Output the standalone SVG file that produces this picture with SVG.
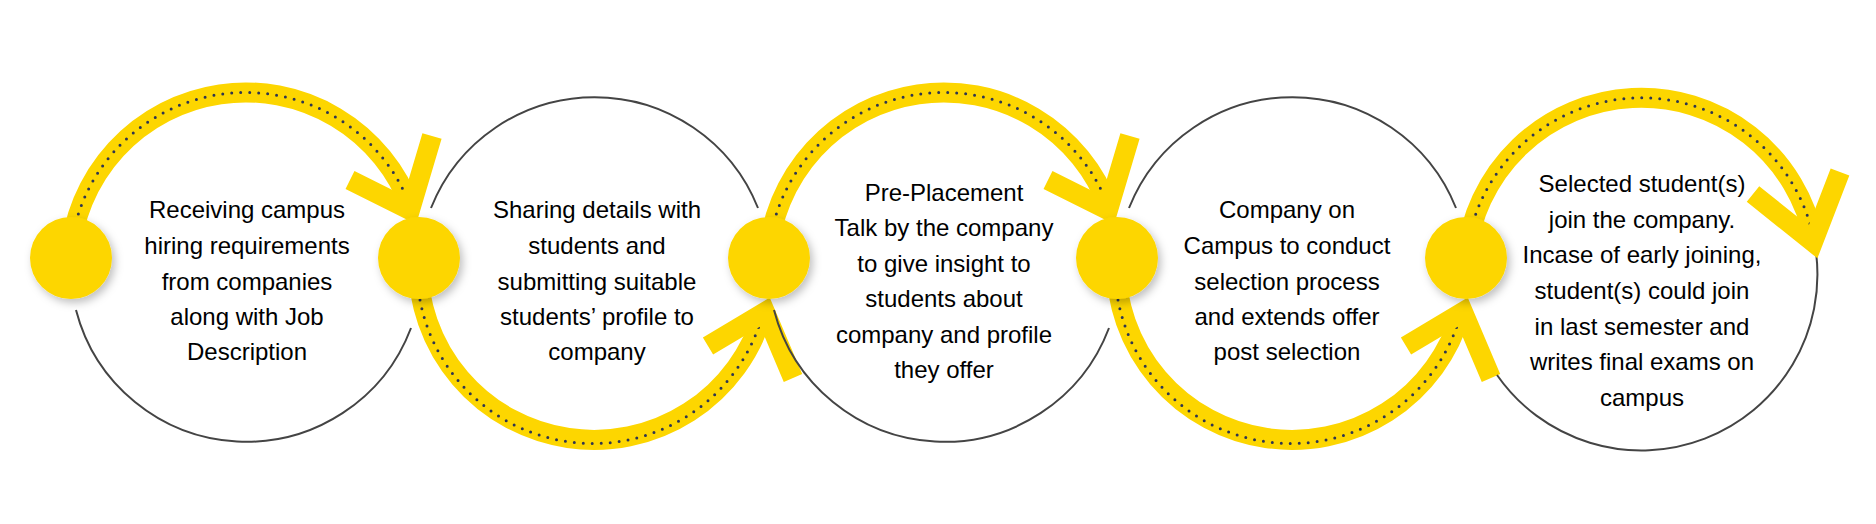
<svg xmlns="http://www.w3.org/2000/svg" width="1876" height="524" viewBox="0 0 1876 524">
<defs>
<filter id="sh" x="-30%" y="-30%" width="160%" height="160%"><feDropShadow dx="3" dy="4" stdDeviation="4" flood-color="#000" flood-opacity="0.25"/></filter>
<style>
.g{fill:none;stroke:#444;stroke-width:2}
.y{fill:none;stroke:#FDD600;stroke-width:20}
.d{fill:none;stroke:#2e3550;stroke-width:3;stroke-linecap:round;stroke-dasharray:0 9}
.a{fill:none;stroke:#FDD600;stroke-width:20;stroke-linejoin:miter;stroke-miterlimit:10}
.dot{fill:#FDD600;filter:url(#sh)}
text{font-family:"Liberation Sans",Arial,sans-serif;font-size:24px;fill:#000;text-anchor:middle}
</style>
</defs>
<rect width="1876" height="524" fill="#fff"/>
<g id="connectors">
<!-- circle1 -->
<path class="g" d="M76,310 A176,176 0 0 0 411,328"/>
<path class="y" d="M70,258 A176,176 0 0 1 411,208"/>
<path class="d" d="M70,258 A176,176 0 0 1 411,208"/>
<polyline class="a" points="432,136 410,210 350,180"/>
<!-- circle2 -->
<path class="g" d="M431,208 A176,176 0 0 1 758,208"/>
<path class="y" d="M418,262 A176,176 0 0 0 763,313"/>
<path class="d" d="M420,300 A176,176 0 0 0 763,313"/>
<polyline class="a" points="793,378 765,312 708,346"/>
<!-- circle3 -->
<path class="g" d="M774,310 A176,176 0 0 0 1109,328"/>
<path class="y" d="M768,258 A176,176 0 0 1 1109,208"/>
<path class="d" d="M768,258 A176,176 0 0 1 1109,208"/>
<polyline class="a" points="1130,136 1108,210 1048,180"/>
<!-- circle4 -->
<path class="g" d="M1129,208 A176,176 0 0 1 1456,208"/>
<path class="y" d="M1116,262 A176,176 0 0 0 1461,313"/>
<path class="d" d="M1118,300 A176,176 0 0 0 1461,313"/>
<polyline class="a" points="1491,378 1463,312 1406,346"/>
<!-- circle5 -->
<path class="g" d="M1816,252 A176,176 0 0 1 1497,375"/>
<path class="y" d="M1466,258 A176,176 0 0 1 1814,240"/>
<path class="d" d="M1466,258 A176,176 0 0 1 1814,240"/>
<polyline class="a" points="1840,172 1813,242 1753,194"/>
</g>
<g id="dot1"><circle class="dot" cx="71" cy="258" r="41"/></g>
<g id="dot2"><circle class="dot" cx="419" cy="258" r="41"/></g>
<g id="dot3"><circle class="dot" cx="769" cy="258" r="41"/></g>
<g id="dot4"><circle class="dot" cx="1117" cy="258" r="41"/></g>
<g id="dot5"><circle class="dot" cx="1466" cy="258" r="41"/></g>
<g id="node1"><text x="247" y="218">Receiving campus</text><text x="247" y="254">hiring requirements</text><text x="247" y="290">from companies</text><text x="247" y="325">along with Job</text><text x="247" y="360">Description</text></g>
<g id="node2"><text x="597" y="218">Sharing details with</text><text x="597" y="254">students and</text><text x="597" y="290">submitting suitable</text><text x="597" y="325">students’ profile to</text><text x="597" y="360">company</text></g>
<g id="node3"><text x="944" y="201">Pre-Placement</text><text x="944" y="236">Talk by the company</text><text x="944" y="272">to give insight to</text><text x="944" y="307">students about</text><text x="944" y="343">company and profile</text><text x="944" y="378">they offer</text></g>
<g id="node4"><text x="1287" y="218">Company on</text><text x="1287" y="254">Campus to conduct</text><text x="1287" y="290">selection process</text><text x="1287" y="325">and extends offer</text><text x="1287" y="360">post selection</text></g>
<g id="node5"><text x="1642" y="192">Selected student(s)</text><text x="1642" y="228">join the company.</text><text x="1642" y="263">Incase of early joining,</text><text x="1642" y="299">student(s) could join</text><text x="1642" y="335">in last semester and</text><text x="1642" y="370">writes final exams on</text><text x="1642" y="406">campus</text></g>
</svg>
